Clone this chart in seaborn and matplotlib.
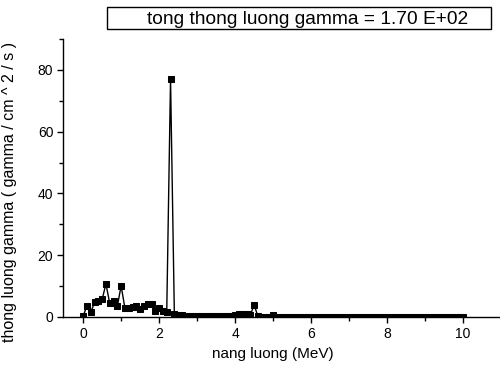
import numpy as np
import pandas as pd
import matplotlib
matplotlib.use("Agg")
import matplotlib.pyplot as plt
import seaborn as sns
from matplotlib.patches import Rectangle
from matplotlib.ticker import MultipleLocator

# Energy bins (MeV) and gamma flux values
energy = [round(0.1 * i, 1) for i in range(101)]
flux = [
    0.3, 3.6, 1.5, 4.7, 5.3, 5.7, 10.7, 4.4, 5.2, 3.5,   # 0.0 - 0.9
    10.1, 2.8, 3.0, 3.1, 3.5, 2.5, 3.5, 4.1, 4.1, 2.0,   # 1.0 - 1.9
    3.0, 1.8, 1.6, 77.0, 1.1, 0.8, 0.6, 0.4, 0.4, 0.4,   # 2.0 - 2.9
    0.4, 0.3, 0.3, 0.3, 0.3, 0.3, 0.3, 0.3, 0.3, 0.3,    # 3.0 - 3.9
    0.5, 1.0, 1.1, 1.1, 0.6, 3.9, 0.2, 0.15, 0.15, 0.15, # 4.0 - 4.9
    0.5, 0.08, 0.08, 0.08, 0.08, 0.08, 0.08, 0.08, 0.08, 0.08,  # 5.0 - 5.9
    0.08, 0.08, 0.08, 0.08, 0.08, 0.08, 0.08, 0.08, 0.08, 0.08,
    0.08, 0.08, 0.08, 0.08, 0.08, 0.08, 0.08, 0.08, 0.08, 0.08,
    0.08, 0.08, 0.08, 0.08, 0.08, 0.08, 0.08, 0.08, 0.08, 0.08,
    0.08, 0.08, 0.08, 0.08, 0.08, 0.08, 0.08, 0.08, 0.08, 0.08,
    0.08,                                                # 10.0
]

title_text = "tong thong luong gamma = 1.70 E+02"
x_label = "nang luong (MeV)"
y_label = "thong luong gamma ( gamma / cm ^ 2 / s )"

df = pd.DataFrame({"energy": energy, "flux": flux})

sns.set_theme(style="ticks")
plt.rcParams["font.family"] = ["Liberation Sans", "DejaVu Sans"]

fig = plt.figure(figsize=(5.0, 3.69), dpi=100)
ax = fig.add_axes([63 / 500, 1 - 317 / 369, (500 - 63) / 500, (317 - 39) / 369])

sns.lineplot(data=df, x="energy", y="flux", ax=ax, color="black",
             linewidth=1.0, marker="s", markersize=5,
             markeredgecolor="black", markerfacecolor="black")

ax.set_xlim(-0.53, 10.97)
ax.set_ylim(0, 90)
ax.xaxis.set_major_locator(MultipleLocator(2))
ax.xaxis.set_minor_locator(MultipleLocator(1))
ax.yaxis.set_major_locator(MultipleLocator(20))
ax.yaxis.set_minor_locator(MultipleLocator(10))
ax.tick_params(axis="both", which="major", direction="out", length=4,
               width=1, labelsize=10, colors="black", pad=3)
ax.tick_params(axis="both", which="minor", direction="out", length=3,
               width=1, colors="black")
for s in ["top", "right"]:
    ax.spines[s].set_visible(False)
for s in ["left", "bottom"]:
    ax.spines[s].set_color("black")
    ax.spines[s].set_linewidth(1.0)

ax.set_xlabel(x_label, fontsize=11, color="black", va="center")
ax.xaxis.set_label_coords((273 - 63) / 437, -(354 - 317) / 278)
ax.set_ylabel(y_label, fontsize=11.5, color="black", va="center")
ax.yaxis.set_label_coords((10 - 63) / 437, (317 - 192) / 278)

# Title box
fig.patches.append(Rectangle((107 / 500, 1 - 29 / 369), (491 - 107) / 500, 22.5 / 369,
                             transform=fig.transFigure, fill=True, facecolor="white",
                             edgecolor="black", linewidth=1.0))
fig.text(308 / 500, 1 - 19.5 / 369, title_text, ha="center", va="center",
         fontsize=13.8, color="black")

fig.savefig("out.png", dpi=100)
